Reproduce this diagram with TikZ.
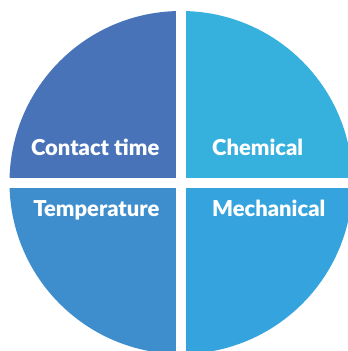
\documentclass[tikz,border=0pt]{standalone}
\usepackage{fontspec}
\setsansfont{Lato}[BoldFont={Lato Black}]
\usepackage{tikz}
\definecolor{quadTL}{HTML}{4873B8}
\definecolor{quadTR}{HTML}{36B0DD}
\definecolor{quadBL}{HTML}{3E8ECE}
\definecolor{quadBR}{HTML}{35A3DE}
\tikzset{quadlabel/.style={text=white, font=\sffamily\bfseries\fontsize{22}{26}\selectfont, inner sep=0pt}}
\begin{document}
\begin{tikzpicture}[x=1bp,y=-1bp]

\useasboundingbox (0,0) rectangle (348,351);

\begin{scope}
\clip (181,182.5) circle (171.5);
\fill [color=quadTL] (0,0) rectangle (176,177.5);
\fill [color=quadTR] (186,0) rectangle (360,177.5);
\fill [color=quadBL] (0,188) rectangle (176,360);
\fill [color=quadBR] (186,188) rectangle (360,360);
\end{scope}

%labels
\node (contact) [quadlabel, anchor=base east] at (159.5,155) {Contact time};
\node (chem) [quadlabel, anchor=base west] at (212,155) {Chemical};
\node (temp) [quadlabel, anchor=base east] at (159.5,216) {Temperature};
\node (mech) [quadlabel, anchor=base west] at (212,216) {Mechanical};

\end{tikzpicture}
\end{document}
